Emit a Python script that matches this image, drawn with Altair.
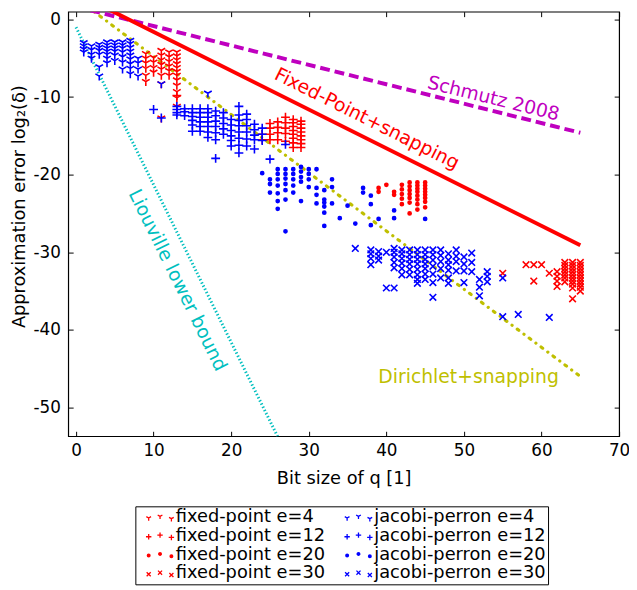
import re
import altair as alt
import pandas as pd

# ---------------- data ----------------
x_ticks = [0, 10, 20, 30, 40, 50, 60, 70]
y_ticks = [0, -10, -20, -30, -40, -50]

series_order = [
    "fixed-point e=4", "jacobi-perron e=4",
    "fixed-point e=12", "jacobi-perron e=12",
    "fixed-point e=20", "jacobi-perron e=20",
    "fixed-point e=30", "jacobi-perron e=30",
]
series_colors = ["#ff0000", "#0000ff"] * 4

# bit size -> list of log2 errors
fp4 = {
    9: [-4.4, -5.0, -5.6, -6.3, -7.2, -8.0],
    10: [-4.9, -5.5, -6.2, -6.8],
    11: [-4.0, -4.6, -5.2, -5.8, -6.4, -7.2, -8.3, -12.7],
    12: [-4.2, -4.8, -5.4, -6.0, -6.6, -7.2],
    13: [-4.2, -4.7, -5.2, -5.7, -6.2, -6.7, -7.2, -7.8, -8.5, -9.3, -10.1, -11.2],
}
jp4 = {
    1: [-3.0, -3.4, -3.8, -4.2],
    2: [-3.4, -3.9, -4.5, -5.0],
    3: [-3.2, -3.6, -4.0, -4.5, -6.1, -7.3],
    4: [-2.9, -3.3, -3.7, -4.1, -4.5, -5.0, -5.6],
    5: [-2.9, -3.3, -3.7, -4.1, -4.6, -5.3],
    6: [-2.9, -3.3, -3.7, -4.2, -4.8, -5.5, -6.4],
    7: [-2.7, -3.1, -3.6, -4.1, -4.6, -5.1, -5.7, -6.3, -7.0],
    8: [-5.0, -5.6, -6.4, -7.3],
    11: [-8.3],
    17: [-9.5],
}
fp12 = {
    13: [-9.8],
    24: [-14.8, -15.5],
    25: [-13.4, -14.0, -14.8, -15.5],
    26: [-13.2, -13.9, -14.6, -15.5],
    27: [-12.6, -13.3, -14.0, -14.7, -15.7],
    28: [-12.9, -13.3, -13.8, -14.3, -14.8, -15.3, -15.9, -16.5],
    29: [-13.1, -13.5, -14.0, -14.5, -15.0, -15.5, -16.0, -16.5],
}
jp12 = {
    10: [-11.6],
    11: [-12.7],
    13: [-11.2, -11.6, -12.0, -12.3],
    14: [-11.5, -11.9, -12.4],
    15: [-11.5, -12.0, -12.5, -13.0, -13.6, -14.4],
    16: [-11.5, -12.0, -12.6, -13.2, -13.8, -14.4],
    17: [-11.5, -12.0, -12.6, -13.2, -13.8, -14.5, -15.2],
    18: [-11.8, -12.4, -13.1, -13.8, -14.6, -15.5, -17.9],
    19: [-12.0, -12.7, -13.4, -14.1, -14.8],
    20: [-12.9, -13.6, -14.3, -15.0, -15.6, -16.3],
    21: [-11.2, -12.3, -13.0, -13.7, -14.5, -15.3, -16.2, -17.2],
    22: [-12.2, -12.9, -13.7, -14.5, -15.4, -16.3],
    23: [-13.5, -14.2, -14.9, -15.5, -16.7],
    24: [-14.0, -14.8, -15.6],
    25: [-18.0],
    27: [-16.1],
}
fp20 = {
    39: [-21.7, -22.2],
    40: [-21.3],
    41: [-22.2, -22.6],
    42: [-21.3, -21.9, -22.5, -23.1, -23.8],
    43: [-21.0, -21.5, -22.0, -22.5, -23.0, -23.6, -25.0],
    44: [-21.0, -21.4, -21.8, -22.2, -22.7, -23.2, -23.8, -24.5],
    45: [-21.0, -21.4, -21.8, -22.2, -22.6, -23.0, -23.5, -24.2],
}
jp20 = {
    24: [-19.8],
    25: [-20.6, -21.2, -22.3],
    26: [-19.3, -19.9, -20.6, -21.4, -22.4, -23.4, -24.4],
    27: [-19.3, -19.9, -20.5, -21.2, -22.0, -23.2, -27.3],
    28: [-19.3, -19.9, -20.6, -21.4, -22.3],
    29: [-19.0, -19.6, -20.3, -20.9, -23.4],
    30: [-19.3, -19.9, -20.6, -21.6],
    31: [-19.3, -21.7, -22.6, -23.7],
    32: [-22.0, -23.2, -23.6, -24.1, -24.9, -26.6],
    33: [-20.6, -21.6, -23.7],
    34: [-25.6],
    35: [-24.0],
    36: [-26.3],
    37: [-21.7, -22.3],
    38: [-22.7, -23.8, -26.5],
    39: [-25.7],
    41: [-24.6, -25.6],
    45: [-25.7],
}
fp30 = {
    55: [-32.7],
    58: [-31.6],
    59: [-31.6, -33.7],
    60: [-31.6],
    61: [-32.7],
    62: [-32.5, -33.1, -33.7, -34.4],
    63: [-31.3, -31.7, -32.1, -32.5, -32.9, -33.3, -33.8],
    64: [-31.3, -31.7, -32.1, -32.5, -32.9, -33.3, -33.7, -34.1, -34.6, -36.0],
    65: [-31.3, -31.7, -32.1, -32.5, -32.9, -33.3, -33.7, -34.1, -34.5, -35.0],
}
jp30 = {
    36: [-29.5],
    38: [-29.7, -30.2, -30.8, -31.6],
    39: [-29.9, -30.5, -31.0],
    40: [-30.0, -34.6],
    41: [-29.5, -30.0, -30.6, -31.3, -32.0, -34.6],
    42: [-29.7, -30.2, -30.8, -31.4, -32.1, -32.9],
    43: [-29.7, -30.3, -30.9, -31.5, -32.2, -32.9],
    44: [-29.7, -30.3, -30.9, -31.5, -32.2, -32.9, -33.5, -34.0],
    45: [-29.7, -30.3, -30.9, -31.5, -32.1, -32.8, -33.5],
    46: [-29.7, -30.3, -31.0, -31.8, -32.8, -33.9, -35.8],
    47: [-29.7, -30.4, -31.2, -32.1, -33.3],
    48: [-30.2, -31.0, -31.6, -32.3, -33.3, -34.0],
    49: [-29.7, -30.5, -31.2, -32.4],
    50: [-30.6, -31.5, -32.4, -33.9],
    51: [-30.1, -31.3, -32.5],
    52: [-33.5, -34.5, -35.6],
    53: [-32.5, -33.1, -33.8],
    55: [-33.3, -38.3],
    57: [-38.0],
    61: [-38.4],
}

# reference curves (x, y endpoints)
schmutz_x, schmutz_y = [0, 65], [1.65, -14.6]
fixedpt_x, fixedpt_y = [0, 65], [3.4, -29.1]
dirichlet_x, dirichlet_y = [0, 65], [2.75, -46.0]
liouville_x, liouville_y = [0, 27], [-1.0, -55.8]

# annotations: text, x, y, angle, color
annotations = [
    ("Schmutz 2008", 53.8, -10.2, 14, "#bf00bf"),
    ("Fixed-Point+snapping", 37.5, -12.8, 26.6, "#ff0000"),
    ("Dirichlet+snapping", 50.6, -46.1, 0, "#bfbf00"),
    ("Liouville lower bound", 13.1, -33.6, 63.8, "#00bfbf"),
]

# ---------------- build ----------------
FONT = "DejaVu Sans"
W, H = 558, 430
XS = alt.Scale(domain=[-1, 70], nice=False, zero=False)
YS = alt.Scale(domain=[-53.7, 1], nice=False, zero=False)


def ring(cx, cy, r):
    return (f"M{cx - r:g},{cy:g}A{r:g},{r:g} 0 1,0 {cx + r:g},{cy:g}"
            f"A{r:g},{r:g} 0 1,0 {cx - r:g},{cy:g}Z")


TRI = "M0,0L0,1M0,0L-0.87,-0.5M0,0L0.87,-0.5"
PLUS = "M-1,0L1,0M0,-1L0,1"
DOT = ring(0, 0, 0.36) + ring(0, 0, 0.16)
CROSS = "M-0.75,-0.75L0.75,0.75M-0.75,0.75L0.75,-0.75"
series_shapes = [TRI, TRI, PLUS, PLUS, DOT, DOT, CROSS, CROSS]


def triple(path):
    # three copies of a marker side by side (legend sample like matplotlib)
    out = []
    for dx, dy in ((-4.2, 0.3), (0.0, -0.3), (4.2, 0.55)):
        if "A" in path:
            out.append(ring(dx, dy, 0.5) + ring(dx, dy, 0.22))
        else:
            out.append(re.sub(r"(-?[\d.]+),(-?[\d.]+)",
                              lambda m: f"{float(m.group(1)) + dx:g},{float(m.group(2)) + dy:g}",
                              path))
    return "".join(out)


legend_shapes = [triple(s) for s in series_shapes]

series_data = dict(zip(series_order, [fp4, jp4, fp12, jp12, fp20, jp20, fp30, jp30]))
rows = []
for name, cols in series_data.items():
    for xv, ys in cols.items():
        for yv in ys:
            rows.append({"x": xv, "y": yv, "series": name})
pts_df = pd.DataFrame(rows)

legend = alt.Legend(
    title=None, orient="none", legendX=68, legendY=501, columns=2,
    direction="horizontal",
    labelFont=FONT, labelFontSize=18, labelColor="black",
    symbolSize=30, symbolStrokeWidth=1.3, symbolOffset=14, labelOffset=7,
    symbolOpacity=1,
    strokeColor="black", fillColor="white", padding=2, rowPadding=1,
    columnPadding=10, labelLimit=300,
)

main_x_axis = alt.Axis(
    values=x_ticks, ticks=False, domain=False, grid=False, labelFont=FONT,
    labelFontSize=17, labelColor="black", labelPadding=7, labelFlush=False,
    labelExpr="'' + datum.value",
    title="Bit size of q [1]", titleFont=FONT, titleFontSize=18,
    titleFontWeight="normal", titleColor="black", titlePadding=11,
)
main_y_axis = alt.Axis(
    values=y_ticks, ticks=False, domain=False, grid=False, labelFont=FONT,
    labelFontSize=17, labelColor="black", labelPadding=8, labelFlush=False,
    labelExpr="'' + datum.value",
    title="Approximation error log₂(δ)", titleFont=FONT, titleFontSize=18,
    titleFontWeight="normal", titleColor="black",
    titleX=-49, titleY=197, titleAngle=270, titleAlign="center",
    titleBaseline="middle",
)


def tick_axis(orient, offset, values):
    return alt.Axis(orient=orient, offset=offset, values=values, labels=False,
                    domain=False, grid=False, ticks=True, tickSize=5,
                    tickColor="black", tickWidth=1, title=None)


points = alt.Chart(pts_df).mark_point(filled=False, strokeWidth=1.6, size=80,
                                      opacity=1, clip=True).encode(
    x=alt.X("x:Q", scale=XS, axis=main_x_axis),
    y=alt.Y("y:Q", scale=YS, axis=main_y_axis),
    color=alt.Color("series:N", scale=alt.Scale(domain=series_order, range=series_colors), legend=None),
    shape=alt.Shape("series:N", scale=alt.Scale(domain=series_order, range=series_shapes), legend=None),
)

# empty layer that only carries the legend (three sample markers per entry)
legend_layer = alt.Chart(pts_df).transform_filter("datum.x > 1000").mark_point(
    filled=False, strokeWidth=1.3, opacity=1
).encode(
    x=alt.X("x:Q", scale=XS, axis=None),
    y=alt.Y("y:Q", scale=YS, axis=None),
    color=alt.Color("series:N", scale=alt.Scale(domain=series_order, range=series_colors), legend=legend),
    shape=alt.Shape("series:N", scale=alt.Scale(domain=series_order, range=legend_shapes), legend=legend),
)


def line_layer(xs, ys, color, width, dash=None, cap="butt", xaxis=None, yaxis=None):
    df = pd.DataFrame({"x": xs, "y": ys})
    kw = dict(color=color, strokeWidth=width, clip=True, strokeCap=cap)
    if dash:
        kw["strokeDash"] = dash
    return alt.Chart(df).mark_line(**kw).encode(
        x=alt.X("x:Q", scale=XS, axis=xaxis),
        y=alt.Y("y:Q", scale=YS, axis=yaxis),
    )


schmutz = line_layer(schmutz_x, schmutz_y, "#bf00bf", 4, [10, 5],
                     xaxis=tick_axis("top", -H, x_ticks),
                     yaxis=tick_axis("right", -W, y_ticks))
fixedpt = line_layer(fixedpt_x, fixedpt_y, "#ff0000", 4,
                     xaxis=tick_axis("bottom", -H, x_ticks),
                     yaxis=tick_axis("left", -W, y_ticks))
dirichlet = line_layer(dirichlet_x, dirichlet_y, "#bfbf00", 3.2, [2, 6.5, 0.1, 6.5], cap="round")
liouville = line_layer(liouville_x, liouville_y, "#00bfbf", 3, [1.4, 2.2])

texts = []
for txt, tx, ty, ang, col in annotations:
    df = pd.DataFrame({"x": [tx], "y": [ty], "t": [txt]})
    texts.append(
        alt.Chart(df).mark_text(angle=ang, fontSize=19, font=FONT, color=col,
                                align="center", baseline="middle").encode(
            x=alt.X("x:Q", scale=XS, axis=None),
            y=alt.Y("y:Q", scale=YS, axis=None),
            text="t:N",
        )
    )

chart = alt.layer(liouville, dirichlet, schmutz, fixedpt, points, legend_layer, *texts).resolve_axis(
    x="independent", y="independent"
).resolve_scale(
    shape="independent", color="independent"
).resolve_legend(
    shape="independent", color="independent"
).properties(
    width=W, height=H,
    autosize=alt.AutoSizeParams(type="none"),
    padding={"left": 61, "top": 0, "right": 10, "bottom": 152},
).configure(font=FONT).configure_view(stroke="black", strokeWidth=1.2)

chart.save("out.html", embed_options={"renderer": "svg", "actions": False})
